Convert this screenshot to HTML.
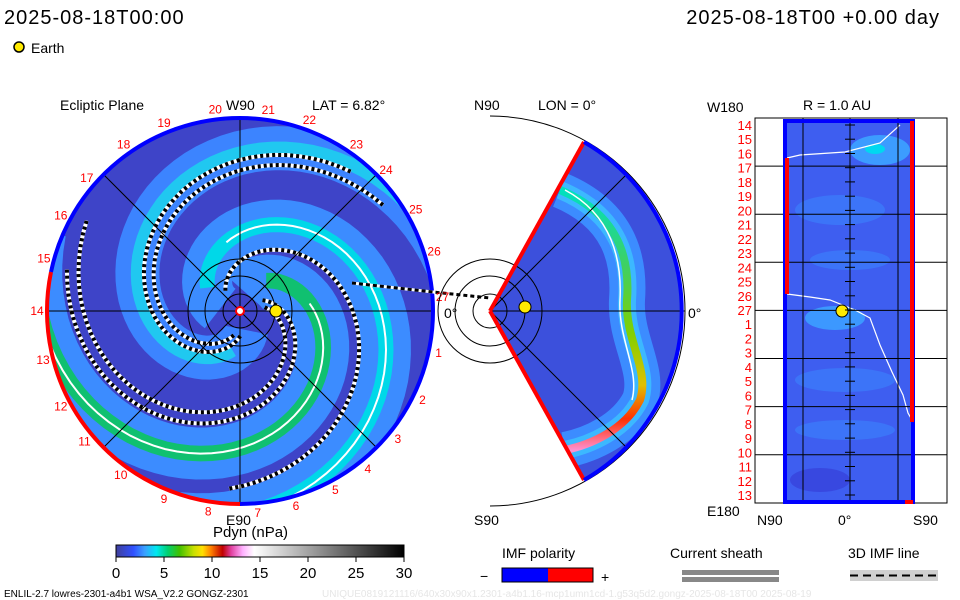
<!DOCTYPE html>
<html><head><meta charset="utf-8"><style>
html,body{margin:0;padding:0;background:#fff;}
svg{display:block;font-family:"Liberation Sans",sans-serif;}
</style></head><body>
<svg id="s" width="960" height="600" viewBox="0 0 960 600" xmlns="http://www.w3.org/2000/svg">
<defs>
<linearGradient id="cbar" x1="0" x2="1" y1="0" y2="0">
<stop offset="0" stop-color="#40409a"/><stop offset="0.06" stop-color="#3050ff"/><stop offset="0.1" stop-color="#3aa0ff"/><stop offset="0.14" stop-color="#00e8f0"/><stop offset="0.18" stop-color="#00d070"/><stop offset="0.22" stop-color="#40c000"/><stop offset="0.27" stop-color="#c8e000"/><stop offset="0.3" stop-color="#ffe000"/><stop offset="0.33" stop-color="#ff8000"/><stop offset="0.37" stop-color="#c00000"/><stop offset="0.4" stop-color="#e040a0"/><stop offset="0.44" stop-color="#ffb0ff"/><stop offset="0.48" stop-color="#ffffff"/><stop offset="1" stop-color="#000000"/>
</linearGradient>
<linearGradient id="band" x1="0" x2="0" y1="0" y2="1">
<stop offset="0" stop-color="#00e0c0"/><stop offset="0.3" stop-color="#40d060"/><stop offset="0.55" stop-color="#80d000"/><stop offset="0.75" stop-color="#e0c000"/><stop offset="0.88" stop-color="#ff3000"/><stop offset="1" stop-color="#ff90d0"/>
</linearGradient>
<clipPath id="cc"><circle cx="240" cy="311" r="193"/></clipPath>
<clipPath id="wc"><path d="M490,311 L584,142 A195,195 0 0 1 584,480 Z"/></clipPath>
</defs>

<text x="4" y="24" font-size="20" letter-spacing="1">2025-08-18T00:00</text>
<text x="940" y="24" font-size="20" text-anchor="end" letter-spacing="1">2025-08-18T00 +0.00 day</text>
<circle cx="19" cy="47" r="5" fill="#ffea00" stroke="#000" stroke-width="1.5"/>
<text x="31" y="53" font-size="14">Earth</text>

<g id="left">
<circle cx="240" cy="311" r="193" fill="#3e44c8"/>
<g id="arms" clip-path="url(#cc)"></g>
<g id="leftgrid" stroke="#000" stroke-width="1" fill="none"></g>
<path d="M240,118 A193,193 0 0 1 240,504" fill="none" stroke="#0000ff" stroke-width="4"/>
<path d="M240,504 A193,193 0 0 1 51,272" fill="none" stroke="#ff0000" stroke-width="4"/>
<path d="M51,272 A193,193 0 0 1 240,118" fill="none" stroke="#0000ff" stroke-width="4"/>
<path d="M352,283 L433,292 L490,298" stroke="#fff" stroke-width="3" fill="none"/>
<path d="M352,283 L433,292 L490,298" stroke="#000" stroke-width="3" stroke-dasharray="4 3" fill="none"/>
<circle cx="276" cy="311" r="6" fill="#ffea00" stroke="#000" stroke-width="1"/>
<text x="60" y="110" font-size="14">Ecliptic Plane</text>
<text x="226" y="110" font-size="14">W90</text>
<text x="312" y="110" font-size="14">LAT = 6.82°</text>
<text x="444" y="318" font-size="14">0°</text>
<text x="226" y="525" font-size="14">E90</text>
<g id="carr" fill="#ff0000" font-size="12" text-anchor="middle"></g>
</g>

<g>
<path d="M490,116 A195,195 0 0 1 490,506" fill="none" stroke="#000" stroke-width="1"/>
<path d="M490,311 L584,142 A195,195 0 0 1 584,480 Z" fill="#3c50dc"/>
<g clip-path="url(#wc)">
<path d="M560,190 C620,215 630,260 627,300 C625,340 650,370 640,400 C625,430 590,445 565,450" fill="none" stroke="#3c8cff" stroke-width="36"/>
<path d="M560,190 C620,215 630,260 627,300 C625,340 650,370 640,400 C625,430 590,445 565,450" fill="none" stroke="#3cb8ff" stroke-width="18"/>
<path d="M560,190 C620,215 630,260 627,300 C625,340 650,370 640,400 C625,430 590,445 565,450" fill="none" stroke="url(#band)" stroke-width="8"/>
<path d="M565,190 C612,215 622,260 620,300 C618,340 640,370 632,400" fill="none" stroke="#fff" stroke-width="1.5"/>
</g>
<g stroke="#000" stroke-width="1" fill="none">
<path d="M490,311 L685,311 M490,311 L628,173 M490,311 L628,449"/>
<circle cx="490" cy="311" r="17"/><circle cx="490" cy="311" r="35"/><circle cx="490" cy="311" r="52"/>
</g>
<path d="M490,311 L584,142" stroke="#ff0000" stroke-width="4"/>
<path d="M490,311 L584,480" stroke="#ff0000" stroke-width="4"/>
<path d="M584,142 A195,195 0 0 1 584,480" fill="none" stroke="#0000ff" stroke-width="4"/>
<circle cx="525" cy="307" r="6" fill="#ffea00" stroke="#000" stroke-width="1"/>
<text x="474" y="110" font-size="14">N90</text>
<text x="538" y="110" font-size="14">LON = 0°</text>
<text x="688" y="318" font-size="14">0°</text>
<text x="474" y="525" font-size="14">S90</text>
</g>

<g>
<rect x="785" y="121" width="128" height="381" fill="#3e5ef0"/>
<ellipse cx="880" cy="150" rx="30" ry="15" fill="#3c9cff"/><ellipse cx="875" cy="149" rx="10" ry="5" fill="#00d8f0"/>
<ellipse cx="835" cy="318" rx="30" ry="12" fill="#3c98ff"/>
<ellipse cx="840" cy="210" rx="45" ry="15" fill="#3c74f8"/>
<ellipse cx="850" cy="260" rx="40" ry="10" fill="#3c74f8"/>
<ellipse cx="845" cy="380" rx="50" ry="12" fill="#3c74f8"/>
<ellipse cx="845" cy="430" rx="50" ry="10" fill="#3c74f8"/>
<ellipse cx="820" cy="480" rx="30" ry="12" fill="#3848e0"/>
<path d="M787,158 L800,155 L845,152 L880,143 L900,125" fill="none" stroke="#fff" stroke-width="1.2"/>
<path d="M787,294 L810,297 L830,300 L855,310 L870,318 L880,345 L892,372 L903,395 L908,413 L912,420" fill="none" stroke="#fff" stroke-width="1.2"/>
<rect x="755" y="118" width="192" height="385" fill="none" stroke="#000" stroke-width="1"/>
<g id="rgrid" stroke="#000" stroke-width="1"></g>
<rect x="785" y="121" width="128" height="381" fill="none" stroke="#0000ff" stroke-width="4"/>
<path d="M787,158 L787,294" stroke="#ff0000" stroke-width="4"/>
<path d="M912,121 L912,422" stroke="#ff0000" stroke-width="4"/>
<path d="M905,502 L913,502" stroke="#ff0000" stroke-width="4"/>
<circle cx="842" cy="311" r="6" fill="#ffea00" stroke="#000" stroke-width="1"/>
<g id="rlabels" fill="#ff0000" font-size="13" text-anchor="end"></g>
<text x="707" y="112" font-size="14">W180</text>
<text x="803" y="110" font-size="14">R = 1.0 AU</text>
<text x="707" y="516" font-size="14">E180</text>
<text x="757" y="525" font-size="14">N90</text>
<text x="838" y="525" font-size="14">0°</text>
<text x="913" y="525" font-size="14">S90</text>
</g>

<text x="213" y="537" font-size="15">Pdyn (nPa)</text>
<rect x="116" y="545" width="288" height="12" fill="url(#cbar)" stroke="#000" stroke-width="1"/>
<g id="cticks"></g>
<text x="502" y="558" font-size="14">IMF polarity</text>
<text x="480" y="581" font-size="14">−</text>
<rect x="502" y="568" width="46" height="14" fill="#0000ff"/>
<rect x="548" y="568" width="45" height="14" fill="#ff0000"/>
<rect x="502" y="568" width="91" height="14" fill="none" stroke="#000" stroke-width="1"/>
<text x="601" y="582" font-size="14">+</text>
<text x="670" y="558" font-size="14">Current sheath</text>
<rect x="682" y="570" width="97" height="5" fill="#888"/>
<rect x="682" y="577" width="97" height="5" fill="#888"/>
<text x="848" y="558" font-size="14">3D IMF line</text>
<rect x="850" y="570" width="88" height="11" fill="#d0d0d0"/>
<line x1="850" y1="575.5" x2="938" y2="575.5" stroke="#000" stroke-width="2" stroke-dasharray="8 5"/>
<text x="4" y="597" font-size="10">ENLIL-2.7 lowres-2301-a4b1 WSA_V2.2 GONGZ-2301</text>
<text x="322" y="597" font-size="10" fill="#e6e6e6">UNIQUE0819121116/640x30x90x1.2301-a4b1.16-mcp1umn1cd-1.g53q5d2.gongz-2025-08-18T00  2025-08-19</text>
</svg>
<script>
const NS="http://www.w3.org/2000/svg";
const cbTicks=[0,5,10,15,20,25,30];
const carrNums=[20,21,22,23,24,25,26,27,1,2,3,4,5,6,7,8,9,10,11,12,13,14,15,16,17,18,19];
const carrAngles=[-97,-82,-70,-55,-44,-30,-17,-4,12,26,39,51,62,74,85,99,112,126,140,152,166,180,195,208,221,235,248];
const rLabels=[14,15,16,17,18,19,20,21,22,23,24,25,26,27,1,2,3,4,5,6,7,8,9,10,11,12,13];
const armAngles=[170,75,-40];
const armWidths=[52,50,44];
const armColors=["#3c8cff","#3c8cff","#3c84ff"];
const coreColors=["#10c070","#00d8e8","#20c8f0"];
const dashArms=[232,215,115,-15,-30];
const cx=240,cy=311,R=193,K=40;
function el(t,a,p){const e=document.createElementNS(NS,t);for(const k in a)e.setAttribute(k,a[k]);p.appendChild(e);return e;}
function spiral(phiOutDeg,rMin,rMax){let d="";for(let r=rMin;r<=rMax;r+=3){const ph=phiOutDeg*Math.PI/180-(R-r)/K;const x=cx+r*Math.cos(ph),y=cy+r*Math.sin(ph);d+=(d?"L":"M")+x.toFixed(1)+","+y.toFixed(1);}return d;}
const arms=document.getElementById("arms");
armAngles.forEach((a,i)=>{
  const p=el("path",{d:spiral(a,20,215),fill:"none",stroke:armColors[i],"stroke-width":armWidths[i]},arms);
  
  
  const q=el("path",{d:spiral(a,40,215),fill:"none",stroke:coreColors[i],"stroke-width":armWidths[i]*0.3},arms);
  
  
});
el("path",{d:spiral(170,70,215),fill:"none",stroke:"#fff","stroke-width":2},arms);
el("path",{d:spiral(75,70,215),fill:"none",stroke:"#fff","stroke-width":2},arms);
dashArms.forEach(a=>{
  el("path",{d:spiral(a,25,180),fill:"none",stroke:"#fff","stroke-width":4},arms);
  const p=el("path",{d:spiral(a,25,180),fill:"none",stroke:"#000","stroke-width":4,"stroke-dasharray":"3 3"},arms);
  
  
});
const g=document.getElementById("leftgrid");
el("path",{d:`M${cx-R},${cy}L${cx+R},${cy}M${cx},${cy-R}L${cx},${cy+R}`},g);
const d45=R*Math.SQRT1_2;
el("path",{d:`M${cx-d45},${cy-d45}L${cx+d45},${cy+d45}M${cx-d45},${cy+d45}L${cx+d45},${cy-d45}`},g);
[17,35,52].forEach(r=>el("circle",{cx,cy,r},g));
el("circle",{cx,cy,r:4,fill:"#fff",stroke:"#ff0000","stroke-width":2},g);
const carr=document.getElementById("carr");
carrNums.forEach((n,i)=>{
  const a=carrAngles[i]*Math.PI/180,rr=R+10;
  const t=el("text",{x:(cx+rr*Math.cos(a)).toFixed(1),y:(cy+rr*Math.sin(a)+4).toFixed(1)},carr);
  t.textContent=n;
  
  
});
const rg=document.getElementById("rgrid");
for(let i=1;i<8;i++){const y=118+i*48.1;el("line",{x1:755,x2:947,y1:y.toFixed(1),y2:y.toFixed(1)},rg);}
[803,850,898].forEach(x=>el("line",{x1:x,x2:x,y1:118,y2:503},rg));
const rl=document.getElementById("rlabels");
const step=(495-125)/(rLabels.length-1);
rLabels.forEach((n,i)=>{
  const y=125+i*step;
  const t=el("text",{x:752,y:(y+5).toFixed(1)},rl);
  t.textContent=n;
  
  
  el("line",{x1:845,x2:855,y1:y.toFixed(1),y2:y.toFixed(1),stroke:"#000"},rl);
});
const ct=document.getElementById("cticks");
cbTicks.forEach(v=>{
  const x=116+v/30*288;
  el("line",{x1:x,x2:x,y1:557,y2:562,stroke:"#000"},ct);
  const t=el("text",{x:x,y:578,"font-size":15,"text-anchor":"middle"},ct);
  t.textContent=v;
  
  
});
</script>
</body></html>
